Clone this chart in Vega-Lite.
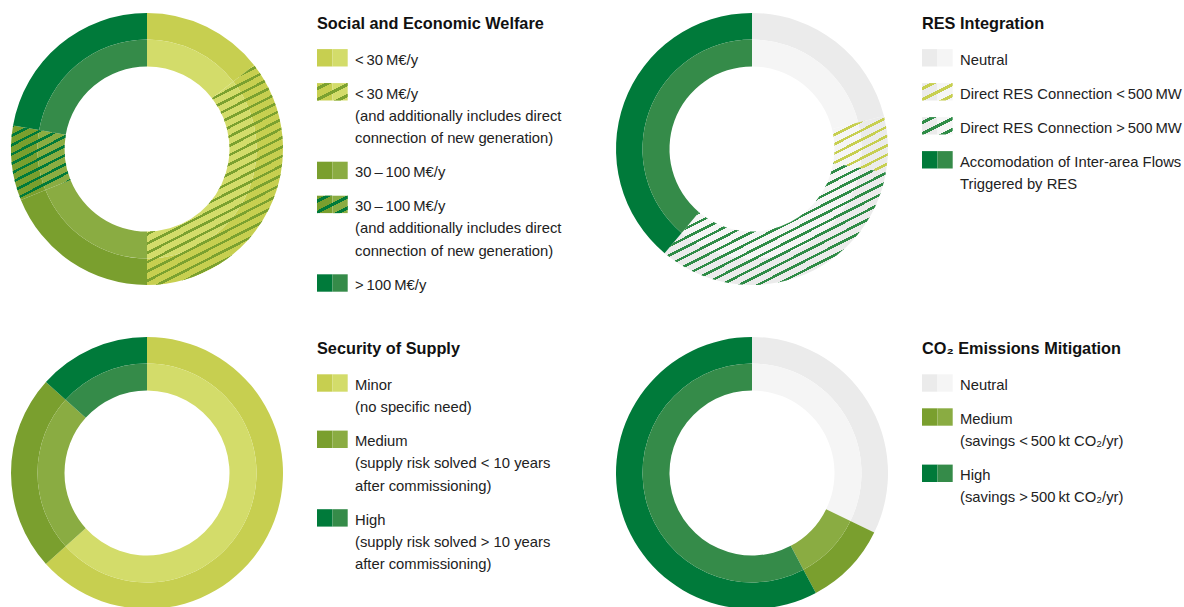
{
"$schema":"https://vega.github.io/schema/vega-lite/v6.json",
"background":"white",
"padding":{"left":11,"top":13,"right":0,"bottom":0},
"config":{"view":{"stroke":null},"title":{"font":"Liberation Sans","fontSize":16.3,"fontWeight":"bold","color":"#111111","anchor":"start","frame":"group","orient":"top","offset":0,"baseline":"alphabetic"}},
"datasets":{
"sew":[
{"order":1,"cat":"<\u200930\u2009M€/y","level":"low","projects":13},
{"order":2,"cat":"<\u200930\u2009M€/y\n(and additionally includes direct\nconnection of new generation)","level":"low","projects":32},
{"order":3,"cat":"30\u2009–\u2009100\u2009M€/y","level":"medium","projects":17},
{"order":4,"cat":"30\u2009–\u2009100\u2009M€/y\n(and additionally includes direct\nconnection of new generation)","level":"medium","projects":8},
{"order":5,"cat":">\u2009100\u2009M€/y","level":"high","projects":20}
],
"res":[
{"order":1,"cat":"Neutral","level":"neutral","projects":19},
{"order":2,"cat":"Direct RES Connection <\u2009500\u2009MW","level":"neutral","projects":6},
{"order":3,"cat":"Direct RES Connection >\u2009500\u2009MW","level":"neutral","projects":30},
{"order":4,"cat":"Accomodation of Inter-area Flows\nTriggered by RES","level":"high","projects":35}
],
"sos":[
{"order":1,"cat":"Minor\n(no specific need)","level":"low","projects":57},
{"order":2,"cat":"Medium\n(supply risk solved < 10 years\nafter commissioning)","level":"medium","projects":21},
{"order":3,"cat":"High\n(supply risk solved > 10 years\nafter commissioning)","level":"high","projects":12}
],
"co2":[
{"order":1,"cat":"Neutral","level":"neutral","projects":29},
{"order":2,"cat":"Medium\n(savings <\u2009500\u2009kt CO₂/yr)","level":"medium","projects":9},
{"order":3,"cat":"High\n(savings >\u2009500\u2009kt CO₂/yr)","level":"high","projects":52}
]
},
"columns":4,
"spacing":{"row":52,"column":34},
"bounds":"flush",
"align":"each",
"concat":[
{
"width":272,"height":272,
"data":{"name":"sew"},
"encoding":{"theta":{"field":"projects","type":"quantitative","stack":true},"order":{"field":"order","type":"quantitative"}},
"layer":[
{"mark":{"type":"arc","outerRadius":136,"innerRadius":109.5},"encoding":{"color":{"field":"level","type":"nominal","legend":null,"scale":{"domain":["neutral","low","medium","high"],"range":["#ebebeb","#c7cf50","#7a9f2e","#007a3a"]}}}},
{"mark":{"type":"arc","outerRadius":109.5,"innerRadius":82.5},"encoding":{"fill":{"field":"level","type":"nominal","legend":null,"scale":{"domain":["neutral","low","medium","high"],"range":["#f5f5f5","#d3dc6a","#8aac42","#358b49"]}}}},
{"mark":{"type":"arc","outerRadius":136,"innerRadius":82.5},"encoding":{"fill":{"condition":[
{"test":"datum.order === 2","value":{"gradient":"linear","x1":0,"y1":0,"x2":0.3892,"y2":1.234,"stops":[
{"offset":0,"color":"#7ba12f"},{"offset":0.009375,"color":"#7ba12f"},{"offset":0.009375,"color":"transparent"},
{"offset":0.03125,"color":"transparent"},{"offset":0.03125,"color":"#7ba12f"},{"offset":0.040625,"color":"#7ba12f"},{"offset":0.040625,"color":"transparent"},
{"offset":0.0625,"color":"transparent"},{"offset":0.0625,"color":"#7ba12f"},{"offset":0.071875,"color":"#7ba12f"},{"offset":0.071875,"color":"transparent"},
{"offset":0.09375,"color":"transparent"},{"offset":0.09375,"color":"#7ba12f"},{"offset":0.103125,"color":"#7ba12f"},{"offset":0.103125,"color":"transparent"},
{"offset":0.125,"color":"transparent"},{"offset":0.125,"color":"#7ba12f"},{"offset":0.134375,"color":"#7ba12f"},{"offset":0.134375,"color":"transparent"},
{"offset":0.15625,"color":"transparent"},{"offset":0.15625,"color":"#7ba12f"},{"offset":0.165625,"color":"#7ba12f"},{"offset":0.165625,"color":"transparent"},
{"offset":0.1875,"color":"transparent"},{"offset":0.1875,"color":"#7ba12f"},{"offset":0.196875,"color":"#7ba12f"},{"offset":0.196875,"color":"transparent"},
{"offset":0.21875,"color":"transparent"},{"offset":0.21875,"color":"#7ba12f"},{"offset":0.228125,"color":"#7ba12f"},{"offset":0.228125,"color":"transparent"},
{"offset":0.25,"color":"transparent"},{"offset":0.25,"color":"#7ba12f"},{"offset":0.259375,"color":"#7ba12f"},{"offset":0.259375,"color":"transparent"},
{"offset":0.28125,"color":"transparent"},{"offset":0.28125,"color":"#7ba12f"},{"offset":0.290625,"color":"#7ba12f"},{"offset":0.290625,"color":"transparent"},
{"offset":0.3125,"color":"transparent"},{"offset":0.3125,"color":"#7ba12f"},{"offset":0.321875,"color":"#7ba12f"},{"offset":0.321875,"color":"transparent"},
{"offset":0.34375,"color":"transparent"},{"offset":0.34375,"color":"#7ba12f"},{"offset":0.353125,"color":"#7ba12f"},{"offset":0.353125,"color":"transparent"},
{"offset":0.375,"color":"transparent"},{"offset":0.375,"color":"#7ba12f"},{"offset":0.384375,"color":"#7ba12f"},{"offset":0.384375,"color":"transparent"},
{"offset":0.40625,"color":"transparent"},{"offset":0.40625,"color":"#7ba12f"},{"offset":0.415625,"color":"#7ba12f"},{"offset":0.415625,"color":"transparent"},
{"offset":0.4375,"color":"transparent"},{"offset":0.4375,"color":"#7ba12f"},{"offset":0.446875,"color":"#7ba12f"},{"offset":0.446875,"color":"transparent"},
{"offset":0.46875,"color":"transparent"},{"offset":0.46875,"color":"#7ba12f"},{"offset":0.478125,"color":"#7ba12f"},{"offset":0.478125,"color":"transparent"},
{"offset":0.5,"color":"transparent"},{"offset":0.5,"color":"#7ba12f"},{"offset":0.509375,"color":"#7ba12f"},{"offset":0.509375,"color":"transparent"},
{"offset":0.53125,"color":"transparent"},{"offset":0.53125,"color":"#7ba12f"},{"offset":0.540625,"color":"#7ba12f"},{"offset":0.540625,"color":"transparent"},
{"offset":0.5625,"color":"transparent"},{"offset":0.5625,"color":"#7ba12f"},{"offset":0.571875,"color":"#7ba12f"},{"offset":0.571875,"color":"transparent"},
{"offset":0.59375,"color":"transparent"},{"offset":0.59375,"color":"#7ba12f"},{"offset":0.603125,"color":"#7ba12f"},{"offset":0.603125,"color":"transparent"},
{"offset":0.625,"color":"transparent"},{"offset":0.625,"color":"#7ba12f"},{"offset":0.634375,"color":"#7ba12f"},{"offset":0.634375,"color":"transparent"},
{"offset":0.65625,"color":"transparent"},{"offset":0.65625,"color":"#7ba12f"},{"offset":0.665625,"color":"#7ba12f"},{"offset":0.665625,"color":"transparent"},
{"offset":0.6875,"color":"transparent"},{"offset":0.6875,"color":"#7ba12f"},{"offset":0.696875,"color":"#7ba12f"},{"offset":0.696875,"color":"transparent"},
{"offset":0.71875,"color":"transparent"},{"offset":0.71875,"color":"#7ba12f"},{"offset":0.728125,"color":"#7ba12f"},{"offset":0.728125,"color":"transparent"},
{"offset":0.75,"color":"transparent"},{"offset":0.75,"color":"#7ba12f"},{"offset":0.759375,"color":"#7ba12f"},{"offset":0.759375,"color":"transparent"},
{"offset":0.78125,"color":"transparent"},{"offset":0.78125,"color":"#7ba12f"},{"offset":0.790625,"color":"#7ba12f"},{"offset":0.790625,"color":"transparent"},
{"offset":0.8125,"color":"transparent"},{"offset":0.8125,"color":"#7ba12f"},{"offset":0.821875,"color":"#7ba12f"},{"offset":0.821875,"color":"transparent"},
{"offset":0.84375,"color":"transparent"},{"offset":0.84375,"color":"#7ba12f"},{"offset":0.853125,"color":"#7ba12f"},{"offset":0.853125,"color":"transparent"},
{"offset":0.875,"color":"transparent"},{"offset":0.875,"color":"#7ba12f"},{"offset":0.884375,"color":"#7ba12f"},{"offset":0.884375,"color":"transparent"},
{"offset":0.90625,"color":"transparent"},{"offset":0.90625,"color":"#7ba12f"},{"offset":0.915625,"color":"#7ba12f"},{"offset":0.915625,"color":"transparent"},
{"offset":0.9375,"color":"transparent"},{"offset":0.9375,"color":"#7ba12f"},{"offset":0.946875,"color":"#7ba12f"},{"offset":0.946875,"color":"transparent"},
{"offset":0.96875,"color":"transparent"},{"offset":0.96875,"color":"#7ba12f"},{"offset":0.978125,"color":"#7ba12f"},{"offset":0.978125,"color":"transparent"}
]}},
{"test":"datum.order === 4","value":{"gradient":"linear","x1":0,"y1":0,"x2":0.5238,"y2":1.2873,"stops":[
{"offset":0,"color":"#007a3a"},{"offset":0.025,"color":"#007a3a"},{"offset":0.025,"color":"transparent"},
{"offset":0.083333,"color":"transparent"},{"offset":0.083333,"color":"#007a3a"},{"offset":0.108333,"color":"#007a3a"},{"offset":0.108333,"color":"transparent"},
{"offset":0.166667,"color":"transparent"},{"offset":0.166667,"color":"#007a3a"},{"offset":0.191667,"color":"#007a3a"},{"offset":0.191667,"color":"transparent"},
{"offset":0.25,"color":"transparent"},{"offset":0.25,"color":"#007a3a"},{"offset":0.275,"color":"#007a3a"},{"offset":0.275,"color":"transparent"},
{"offset":0.333333,"color":"transparent"},{"offset":0.333333,"color":"#007a3a"},{"offset":0.358333,"color":"#007a3a"},{"offset":0.358333,"color":"transparent"},
{"offset":0.416667,"color":"transparent"},{"offset":0.416667,"color":"#007a3a"},{"offset":0.441667,"color":"#007a3a"},{"offset":0.441667,"color":"transparent"},
{"offset":0.5,"color":"transparent"},{"offset":0.5,"color":"#007a3a"},{"offset":0.525,"color":"#007a3a"},{"offset":0.525,"color":"transparent"},
{"offset":0.583333,"color":"transparent"},{"offset":0.583333,"color":"#007a3a"},{"offset":0.608333,"color":"#007a3a"},{"offset":0.608333,"color":"transparent"},
{"offset":0.666667,"color":"transparent"},{"offset":0.666667,"color":"#007a3a"},{"offset":0.691667,"color":"#007a3a"},{"offset":0.691667,"color":"transparent"},
{"offset":0.75,"color":"transparent"},{"offset":0.75,"color":"#007a3a"},{"offset":0.775,"color":"#007a3a"},{"offset":0.775,"color":"transparent"},
{"offset":0.833333,"color":"transparent"},{"offset":0.833333,"color":"#007a3a"},{"offset":0.858333,"color":"#007a3a"},{"offset":0.858333,"color":"transparent"},
{"offset":0.916667,"color":"transparent"},{"offset":0.916667,"color":"#007a3a"},{"offset":0.941667,"color":"#007a3a"},{"offset":0.941667,"color":"transparent"}
]}}
],"value":"transparent"}}}
]
},
{
"width":265,"height":272,
"data":{"name":"sew"},
"title":{"text":"Social and Economic Welfare","dy":23.5},
"transform":[
{"calculate":"length(split(datum.cat, '\\n'))","as":"lines"},
{"window":[{"op":"sum","field":"lines","as":"cumLines"}],"sort":[{"field":"order","order":"ascending"}],"frame":[null,0]},
{"calculate":"datum.cumLines - datum.lines + (datum.order - 1) * 0.5247","as":"slot"}
],
"encoding":{"y":{"field":"slot","type":"quantitative","axis":null,"scale":{"domain":[0,10],"range":[44.8,267.8]}}},
"layer":[
{"mark":{"type":"rect","x":0,"x2":15.5,"height":17.4},"encoding":{"color":{"field":"level","type":"nominal","legend":null,"scale":{"domain":["neutral","low","medium","high"],"range":["#ebebeb","#c7cf50","#7a9f2e","#007a3a"]}}}},
{"mark":{"type":"rect","x":15.5,"x2":30.7,"height":17.4},"encoding":{"fill":{"field":"level","type":"nominal","legend":null,"scale":{"domain":["neutral","low","medium","high"],"range":["#f5f5f5","#d3dc6a","#8aac42","#358b49"]}}}},
{"mark":{"type":"rect","x":0,"x2":30.7,"height":17.4},"encoding":{"fill":{"condition":[
{"test":"datum.order === 2","value":{"gradient":"linear","x1":0,"y1":0,"x2":0.956,"y2":1.069,"stops":[
{"offset":0.12,"color":"transparent"},{"offset":0.12,"color":"#7ba12f"},{"offset":0.22,"color":"#7ba12f"},{"offset":0.22,"color":"transparent"},
{"offset":0.45,"color":"transparent"},{"offset":0.45,"color":"#7ba12f"},{"offset":0.55,"color":"#7ba12f"},{"offset":0.55,"color":"transparent"},
{"offset":0.78,"color":"transparent"},{"offset":0.78,"color":"#7ba12f"},{"offset":0.88,"color":"#7ba12f"},{"offset":0.88,"color":"transparent"}
]}},
{"test":"datum.order === 4","value":{"gradient":"linear","x1":0,"y1":0,"x2":0.956,"y2":1.069,"stops":[
{"offset":0.12,"color":"transparent"},{"offset":0.12,"color":"#007a3a"},{"offset":0.22,"color":"#007a3a"},{"offset":0.22,"color":"transparent"},
{"offset":0.45,"color":"transparent"},{"offset":0.45,"color":"#007a3a"},{"offset":0.55,"color":"#007a3a"},{"offset":0.55,"color":"transparent"},
{"offset":0.78,"color":"transparent"},{"offset":0.78,"color":"#007a3a"},{"offset":0.88,"color":"#007a3a"},{"offset":0.88,"color":"transparent"}
]}}
],"value":"transparent"}}},
{"mark":{"type":"text","x":38,"align":"left","baseline":"top","dy":-5.3,"lineBreak":"\n","lineHeight":22.3,"font":"Liberation Sans","fontSize":14.8,"color":"#222222"},"encoding":{"text":{"field":"cat"}}}
]
},
{
"width":272,"height":272,
"data":{"name":"res"},
"encoding":{"theta":{"field":"projects","type":"quantitative","stack":true},"order":{"field":"order","type":"quantitative"}},
"layer":[
{"mark":{"type":"arc","outerRadius":136,"innerRadius":109.5},"encoding":{"color":{"field":"level","type":"nominal","legend":null,"scale":{"domain":["neutral","low","medium","high"],"range":["#ebebeb","#c7cf50","#7a9f2e","#007a3a"]}}}},
{"mark":{"type":"arc","outerRadius":109.5,"innerRadius":82.5},"encoding":{"fill":{"field":"level","type":"nominal","legend":null,"scale":{"domain":["neutral","low","medium","high"],"range":["#f5f5f5","#d3dc6a","#8aac42","#358b49"]}}}},
{"mark":{"type":"arc","outerRadius":136,"innerRadius":82.5},"encoding":{"fill":{"condition":[
{"test":"datum.order === 2","value":{"gradient":"linear","x1":0,"y1":0,"x2":0.6634,"y2":1.3138,"stops":[
{"offset":0,"color":"#c7cf50"},{"offset":0.03,"color":"#c7cf50"},{"offset":0.03,"color":"transparent"},
{"offset":0.1,"color":"transparent"},{"offset":0.1,"color":"#c7cf50"},{"offset":0.13,"color":"#c7cf50"},{"offset":0.13,"color":"transparent"},
{"offset":0.2,"color":"transparent"},{"offset":0.2,"color":"#c7cf50"},{"offset":0.23,"color":"#c7cf50"},{"offset":0.23,"color":"transparent"},
{"offset":0.3,"color":"transparent"},{"offset":0.3,"color":"#c7cf50"},{"offset":0.33,"color":"#c7cf50"},{"offset":0.33,"color":"transparent"},
{"offset":0.4,"color":"transparent"},{"offset":0.4,"color":"#c7cf50"},{"offset":0.43,"color":"#c7cf50"},{"offset":0.43,"color":"transparent"},
{"offset":0.5,"color":"transparent"},{"offset":0.5,"color":"#c7cf50"},{"offset":0.53,"color":"#c7cf50"},{"offset":0.53,"color":"transparent"},
{"offset":0.6,"color":"transparent"},{"offset":0.6,"color":"#c7cf50"},{"offset":0.63,"color":"#c7cf50"},{"offset":0.63,"color":"transparent"},
{"offset":0.7,"color":"transparent"},{"offset":0.7,"color":"#c7cf50"},{"offset":0.73,"color":"#c7cf50"},{"offset":0.73,"color":"transparent"},
{"offset":0.8,"color":"transparent"},{"offset":0.8,"color":"#c7cf50"},{"offset":0.83,"color":"#c7cf50"},{"offset":0.83,"color":"transparent"},
{"offset":0.9,"color":"transparent"},{"offset":0.9,"color":"#c7cf50"},{"offset":0.93,"color":"#c7cf50"},{"offset":0.93,"color":"transparent"}
]}},
{"test":"datum.order === 3","value":{"gradient":"linear","x1":0,"y1":0,"x2":0.9922,"y2":1.0709,"stops":[
{"offset":0,"color":"#2f8c47"},{"offset":0.011538,"color":"#2f8c47"},{"offset":0.011538,"color":"transparent"},
{"offset":0.038462,"color":"transparent"},{"offset":0.038462,"color":"#2f8c47"},{"offset":0.05,"color":"#2f8c47"},{"offset":0.05,"color":"transparent"},
{"offset":0.076923,"color":"transparent"},{"offset":0.076923,"color":"#2f8c47"},{"offset":0.088461,"color":"#2f8c47"},{"offset":0.088461,"color":"transparent"},
{"offset":0.115385,"color":"transparent"},{"offset":0.115385,"color":"#2f8c47"},{"offset":0.126923,"color":"#2f8c47"},{"offset":0.126923,"color":"transparent"},
{"offset":0.153846,"color":"transparent"},{"offset":0.153846,"color":"#2f8c47"},{"offset":0.165384,"color":"#2f8c47"},{"offset":0.165384,"color":"transparent"},
{"offset":0.192308,"color":"transparent"},{"offset":0.192308,"color":"#2f8c47"},{"offset":0.203846,"color":"#2f8c47"},{"offset":0.203846,"color":"transparent"},
{"offset":0.230769,"color":"transparent"},{"offset":0.230769,"color":"#2f8c47"},{"offset":0.242307,"color":"#2f8c47"},{"offset":0.242307,"color":"transparent"},
{"offset":0.269231,"color":"transparent"},{"offset":0.269231,"color":"#2f8c47"},{"offset":0.280769,"color":"#2f8c47"},{"offset":0.280769,"color":"transparent"},
{"offset":0.307692,"color":"transparent"},{"offset":0.307692,"color":"#2f8c47"},{"offset":0.31923,"color":"#2f8c47"},{"offset":0.31923,"color":"transparent"},
{"offset":0.346154,"color":"transparent"},{"offset":0.346154,"color":"#2f8c47"},{"offset":0.357692,"color":"#2f8c47"},{"offset":0.357692,"color":"transparent"},
{"offset":0.384615,"color":"transparent"},{"offset":0.384615,"color":"#2f8c47"},{"offset":0.396153,"color":"#2f8c47"},{"offset":0.396153,"color":"transparent"},
{"offset":0.423077,"color":"transparent"},{"offset":0.423077,"color":"#2f8c47"},{"offset":0.434615,"color":"#2f8c47"},{"offset":0.434615,"color":"transparent"},
{"offset":0.461538,"color":"transparent"},{"offset":0.461538,"color":"#2f8c47"},{"offset":0.473076,"color":"#2f8c47"},{"offset":0.473076,"color":"transparent"},
{"offset":0.5,"color":"transparent"},{"offset":0.5,"color":"#2f8c47"},{"offset":0.511538,"color":"#2f8c47"},{"offset":0.511538,"color":"transparent"},
{"offset":0.538462,"color":"transparent"},{"offset":0.538462,"color":"#2f8c47"},{"offset":0.55,"color":"#2f8c47"},{"offset":0.55,"color":"transparent"},
{"offset":0.576923,"color":"transparent"},{"offset":0.576923,"color":"#2f8c47"},{"offset":0.588461,"color":"#2f8c47"},{"offset":0.588461,"color":"transparent"},
{"offset":0.615385,"color":"transparent"},{"offset":0.615385,"color":"#2f8c47"},{"offset":0.626923,"color":"#2f8c47"},{"offset":0.626923,"color":"transparent"},
{"offset":0.653846,"color":"transparent"},{"offset":0.653846,"color":"#2f8c47"},{"offset":0.665384,"color":"#2f8c47"},{"offset":0.665384,"color":"transparent"},
{"offset":0.692308,"color":"transparent"},{"offset":0.692308,"color":"#2f8c47"},{"offset":0.703846,"color":"#2f8c47"},{"offset":0.703846,"color":"transparent"},
{"offset":0.730769,"color":"transparent"},{"offset":0.730769,"color":"#2f8c47"},{"offset":0.742307,"color":"#2f8c47"},{"offset":0.742307,"color":"transparent"},
{"offset":0.769231,"color":"transparent"},{"offset":0.769231,"color":"#2f8c47"},{"offset":0.780769,"color":"#2f8c47"},{"offset":0.780769,"color":"transparent"},
{"offset":0.807692,"color":"transparent"},{"offset":0.807692,"color":"#2f8c47"},{"offset":0.81923,"color":"#2f8c47"},{"offset":0.81923,"color":"transparent"},
{"offset":0.846154,"color":"transparent"},{"offset":0.846154,"color":"#2f8c47"},{"offset":0.857692,"color":"#2f8c47"},{"offset":0.857692,"color":"transparent"},
{"offset":0.884615,"color":"transparent"},{"offset":0.884615,"color":"#2f8c47"},{"offset":0.896153,"color":"#2f8c47"},{"offset":0.896153,"color":"transparent"},
{"offset":0.923077,"color":"transparent"},{"offset":0.923077,"color":"#2f8c47"},{"offset":0.934615,"color":"#2f8c47"},{"offset":0.934615,"color":"transparent"},
{"offset":0.961538,"color":"transparent"},{"offset":0.961538,"color":"#2f8c47"},{"offset":0.973076,"color":"#2f8c47"},{"offset":0.973076,"color":"transparent"}
]}}
],"value":"transparent"}}}
]
},
{
"width":265,"height":272,
"data":{"name":"res"},
"title":{"text":"RES Integration","dy":23.5},
"transform":[
{"calculate":"length(split(datum.cat, '\\n'))","as":"lines"},
{"window":[{"op":"sum","field":"lines","as":"cumLines"}],"sort":[{"field":"order","order":"ascending"}],"frame":[null,0]},
{"calculate":"datum.cumLines - datum.lines + (datum.order - 1) * 0.5247","as":"slot"}
],
"encoding":{"y":{"field":"slot","type":"quantitative","axis":null,"scale":{"domain":[0,10],"range":[44.8,267.8]}}},
"layer":[
{"mark":{"type":"rect","x":0,"x2":15.5,"height":17.4},"encoding":{"color":{"field":"level","type":"nominal","legend":null,"scale":{"domain":["neutral","low","medium","high"],"range":["#ebebeb","#c7cf50","#7a9f2e","#007a3a"]}}}},
{"mark":{"type":"rect","x":15.5,"x2":30.7,"height":17.4},"encoding":{"fill":{"field":"level","type":"nominal","legend":null,"scale":{"domain":["neutral","low","medium","high"],"range":["#f5f5f5","#d3dc6a","#8aac42","#358b49"]}}}},
{"mark":{"type":"rect","x":0,"x2":30.7,"height":17.4},"encoding":{"fill":{"condition":[
{"test":"datum.order === 2","value":{"gradient":"linear","x1":0,"y1":0,"x2":0.956,"y2":1.069,"stops":[
{"offset":0.12,"color":"transparent"},{"offset":0.12,"color":"#c7cf50"},{"offset":0.22,"color":"#c7cf50"},{"offset":0.22,"color":"transparent"},
{"offset":0.45,"color":"transparent"},{"offset":0.45,"color":"#c7cf50"},{"offset":0.55,"color":"#c7cf50"},{"offset":0.55,"color":"transparent"},
{"offset":0.78,"color":"transparent"},{"offset":0.78,"color":"#c7cf50"},{"offset":0.88,"color":"#c7cf50"},{"offset":0.88,"color":"transparent"}
]}},
{"test":"datum.order === 3","value":{"gradient":"linear","x1":0,"y1":0,"x2":0.956,"y2":1.069,"stops":[
{"offset":0.12,"color":"transparent"},{"offset":0.12,"color":"#2f8c47"},{"offset":0.22,"color":"#2f8c47"},{"offset":0.22,"color":"transparent"},
{"offset":0.45,"color":"transparent"},{"offset":0.45,"color":"#2f8c47"},{"offset":0.55,"color":"#2f8c47"},{"offset":0.55,"color":"transparent"},
{"offset":0.78,"color":"transparent"},{"offset":0.78,"color":"#2f8c47"},{"offset":0.88,"color":"#2f8c47"},{"offset":0.88,"color":"transparent"}
]}}
],"value":"transparent"}}},
{"mark":{"type":"text","x":38,"align":"left","baseline":"top","dy":-5.3,"lineBreak":"\n","lineHeight":22.3,"font":"Liberation Sans","fontSize":14.8,"color":"#222222"},"encoding":{"text":{"field":"cat"}}}
]
},
{
"width":272,"height":272,
"data":{"name":"sos"},
"encoding":{"theta":{"field":"projects","type":"quantitative","stack":true},"order":{"field":"order","type":"quantitative"}},
"layer":[
{"mark":{"type":"arc","outerRadius":136,"innerRadius":109.5},"encoding":{"color":{"field":"level","type":"nominal","legend":null,"scale":{"domain":["neutral","low","medium","high"],"range":["#ebebeb","#c7cf50","#7a9f2e","#007a3a"]}}}},
{"mark":{"type":"arc","outerRadius":109.5,"innerRadius":82.5},"encoding":{"fill":{"field":"level","type":"nominal","legend":null,"scale":{"domain":["neutral","low","medium","high"],"range":["#f5f5f5","#d3dc6a","#8aac42","#358b49"]}}}}
]
},
{
"width":265,"height":272,
"data":{"name":"sos"},
"title":{"text":"Security of Supply","dy":24.5},
"transform":[
{"calculate":"length(split(datum.cat, '\\n'))","as":"lines"},
{"window":[{"op":"sum","field":"lines","as":"cumLines"}],"sort":[{"field":"order","order":"ascending"}],"frame":[null,0]},
{"calculate":"datum.cumLines - datum.lines + (datum.order - 1) * 0.5247","as":"slot"}
],
"encoding":{"y":{"field":"slot","type":"quantitative","axis":null,"scale":{"domain":[0,10],"range":[46,269]}}},
"layer":[
{"mark":{"type":"rect","x":0,"x2":15.5,"height":17.4},"encoding":{"color":{"field":"level","type":"nominal","legend":null,"scale":{"domain":["neutral","low","medium","high"],"range":["#ebebeb","#c7cf50","#7a9f2e","#007a3a"]}}}},
{"mark":{"type":"rect","x":15.5,"x2":30.7,"height":17.4},"encoding":{"fill":{"field":"level","type":"nominal","legend":null,"scale":{"domain":["neutral","low","medium","high"],"range":["#f5f5f5","#d3dc6a","#8aac42","#358b49"]}}}},
{"mark":{"type":"text","x":38,"align":"left","baseline":"top","dy":-5.3,"lineBreak":"\n","lineHeight":22.3,"font":"Liberation Sans","fontSize":14.8,"color":"#222222"},"encoding":{"text":{"field":"cat"}}}
]
},
{
"width":272,"height":272,
"data":{"name":"co2"},
"encoding":{"theta":{"field":"projects","type":"quantitative","stack":true},"order":{"field":"order","type":"quantitative"}},
"layer":[
{"mark":{"type":"arc","outerRadius":136,"innerRadius":109.5},"encoding":{"color":{"field":"level","type":"nominal","legend":null,"scale":{"domain":["neutral","low","medium","high"],"range":["#ebebeb","#c7cf50","#7a9f2e","#007a3a"]}}}},
{"mark":{"type":"arc","outerRadius":109.5,"innerRadius":82.5},"encoding":{"fill":{"field":"level","type":"nominal","legend":null,"scale":{"domain":["neutral","low","medium","high"],"range":["#f5f5f5","#d3dc6a","#8aac42","#358b49"]}}}}
]
},
{
"width":265,"height":272,
"data":{"name":"co2"},
"title":{"text":"CO₂ Emissions Mitigation","dy":24.5},
"transform":[
{"calculate":"length(split(datum.cat, '\\n'))","as":"lines"},
{"window":[{"op":"sum","field":"lines","as":"cumLines"}],"sort":[{"field":"order","order":"ascending"}],"frame":[null,0]},
{"calculate":"datum.cumLines - datum.lines + (datum.order - 1) * 0.5247","as":"slot"}
],
"encoding":{"y":{"field":"slot","type":"quantitative","axis":null,"scale":{"domain":[0,10],"range":[46,269]}}},
"layer":[
{"mark":{"type":"rect","x":0,"x2":15.5,"height":17.4},"encoding":{"color":{"field":"level","type":"nominal","legend":null,"scale":{"domain":["neutral","low","medium","high"],"range":["#ebebeb","#c7cf50","#7a9f2e","#007a3a"]}}}},
{"mark":{"type":"rect","x":15.5,"x2":30.7,"height":17.4},"encoding":{"fill":{"field":"level","type":"nominal","legend":null,"scale":{"domain":["neutral","low","medium","high"],"range":["#f5f5f5","#d3dc6a","#8aac42","#358b49"]}}}},
{"mark":{"type":"text","x":38,"align":"left","baseline":"top","dy":-5.3,"lineBreak":"\n","lineHeight":22.3,"font":"Liberation Sans","fontSize":14.8,"color":"#222222"},"encoding":{"text":{"field":"cat"}}}
]
}
]
}
